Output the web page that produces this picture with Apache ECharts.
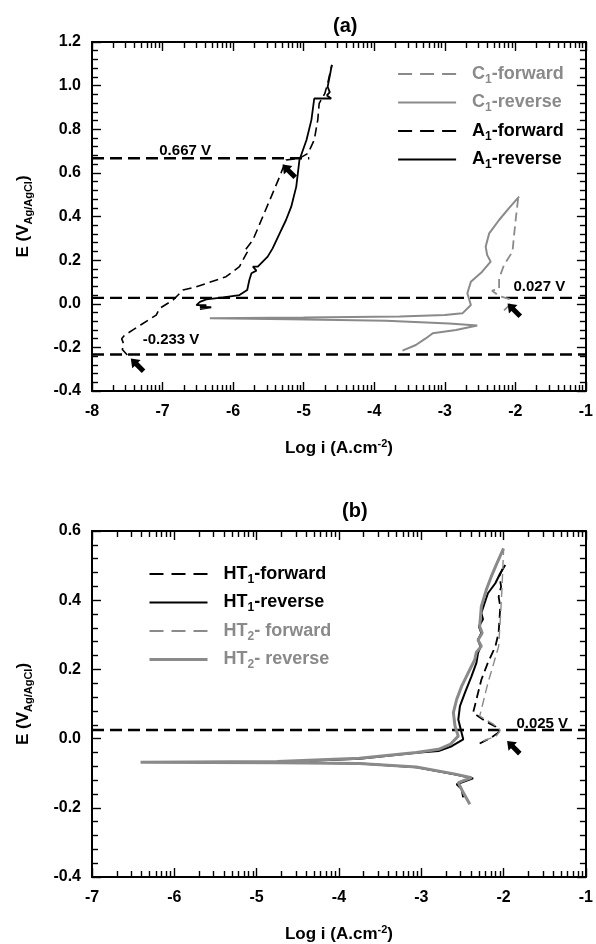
<!DOCTYPE html>
<html>
<head>
<meta charset="utf-8">
<title>Polarization curves</title>
<script src="https://cdn.jsdelivr.net/npm/echarts@6/dist/echarts.min.js"></script>
<style>
html, body { margin: 0; padding: 0; background: #fff; }
#chart { width: 596px; height: 944px; }
</style>
</head>
<body>
<div id="chart"></div>
<script>
// panel (a): log i vs E
var c1Forward = [[-2.16,-0.03],[-2.08,-0.005],[-2.07,0.02],[-2.23,0.036],[-2.33,0.06],[-2.23,0.069],[-2.23,0.116],[-2.16,0.178],[-2.04,0.239],[-2.02,0.308],[-1.99,0.40],[-1.96,0.484]];
var c1Reverse = [[-1.947,0.491],[-2.09,0.438],[-2.23,0.384],[-2.37,0.323],[-2.42,0.262],[-2.40,0.224],[-2.35,0.193],[-2.47,0.147],[-2.63,0.101],[-2.68,0.048],[-2.63,-0.006],[-2.75,-0.044],[-3.0,-0.052],[-3.64,-0.058],[-5.0,-0.063],[-6.33,-0.066],[-5.20,-0.071],[-3.83,-0.078],[-2.94,-0.09],[-2.54,-0.10],[-2.84,-0.12],[-3.17,-0.135],[-3.27,-0.159],[-3.41,-0.189],[-3.60,-0.215]];
var a1Forward = [[-7.50,-0.235],[-7.57,-0.21],[-7.55,-0.185],[-7.58,-0.16],[-7.54,-0.145],[-7.42,-0.12],[-7.30,-0.095],[-7.09,-0.052],[-7.04,-0.021],[-6.85,0.017],[-6.71,0.063],[-6.55,0.075],[-6.38,0.093],[-6.10,0.124],[-5.91,0.170],[-5.81,0.231],[-5.78,0.245],[-5.82,0.25],[-5.72,0.292],[-5.58,0.399],[-5.44,0.506],[-5.34,0.583],[-5.25,0.659],[-5.06,0.667],[-4.94,0.689],[-4.85,0.751],[-4.80,0.843],[-4.78,0.919],[-4.70,0.964],[-4.66,1.010],[-4.60,1.095]];
var a1Reverse = [[-4.60,1.095],[-4.66,0.994],[-4.63,0.97],[-4.67,0.955],[-4.61,0.941],[-4.85,0.941],[-4.89,0.843],[-4.96,0.751],[-5.01,0.705],[-5.06,0.659],[-5.105,0.537],[-5.176,0.445],[-5.25,0.384],[-5.34,0.323],[-5.44,0.254],[-5.51,0.216],[-5.58,0.193],[-5.65,0.170],[-5.72,0.170],[-5.67,0.152],[-5.74,0.140],[-5.77,0.109],[-5.80,0.063],[-5.91,0.040],[-6.14,0.029],[-6.38,0.020],[-6.47,0.009],[-6.52,-0.006],[-6.38,-0.006],[-6.47,-0.015],[-6.31,-0.016],[-6.47,-0.025]];

// panel (b)
var ht1Forward = [[-2.29,-0.014],[-2.15,0.003],[-2.06,0.018],[-2.10,0.035],[-2.22,0.05],[-2.37,0.075],[-2.33,0.113],[-2.27,0.17],[-2.19,0.22],[-2.10,0.266],[-2.06,0.306],[-2.04,0.381],[-2.06,0.41],[-2.03,0.439],[-2.05,0.47],[-2.00,0.496]];
var ht1Reverse = [[-1.98,0.502],[-2.04,0.478],[-2.10,0.449],[-2.19,0.420],[-2.23,0.392],[-2.27,0.363],[-2.25,0.345],[-2.30,0.324],[-2.27,0.305],[-2.31,0.286],[-2.28,0.265],[-2.31,0.248],[-2.33,0.219],[-2.39,0.180],[-2.47,0.132],[-2.53,0.094],[-2.55,0.055],[-2.51,0.017],[-2.49,-0.002],[-2.63,-0.022],[-2.79,-0.036],[-3.06,-0.041],[-3.75,-0.058],[-4.80,-0.068],[-3.75,-0.072],[-3.06,-0.083],[-2.60,-0.103],[-2.37,-0.115],[-2.57,-0.132],[-2.51,-0.146],[-2.49,-0.170]];
var ht2Forward = [[-2.25,-0.007],[-2.09,0.007],[-2.04,0.024],[-2.12,0.041],[-2.29,0.065],[-2.25,0.103],[-2.19,0.161],[-2.13,0.209],[-2.06,0.267],[-2.04,0.343],[-2.02,0.430],[-2.00,0.545]];
var ht2Reverse = [[-2.00,0.550],[-2.08,0.507],[-2.15,0.468],[-2.21,0.430],[-2.27,0.382],[-2.29,0.324],[-2.26,0.305],[-2.31,0.285],[-2.27,0.267],[-2.33,0.25],[-2.35,0.228],[-2.43,0.190],[-2.51,0.151],[-2.57,0.113],[-2.61,0.075],[-2.59,0.036],[-2.55,0.007],[-2.65,-0.017],[-2.79,-0.031],[-3.06,-0.040],[-3.75,-0.057],[-4.75,-0.066],[-6.41,-0.068],[-4.75,-0.070],[-3.75,-0.072],[-3.06,-0.082],[-2.60,-0.102],[-2.39,-0.113],[-2.55,-0.127],[-2.49,-0.156],[-2.41,-0.190]];

// horizontal marker levels and where they stop
var refLevelsA = [0.667, 0.027, -0.233];
var refEndsA = [-4.92, -1, -1];
var refLabelsA = ['0.667 V', '0.027 V', '-0.233 V'];
var refLevelsB = [0.025];
var refEndsB = [-1];
var refLabelsB = ['0.025 V'];

(function(){
    var myChart = echarts.init(document.getElementById('chart'));
    var FONT = '"Liberation Sans", Arial, sans-serif';
    var GRAY = '#8a8a8a';
    var BLACK = '#000';
    var ARROW = 'path://M6,0 L12,8 L8.5,8 L8.5,18 L3.5,18 L3.5,8 L0,8 Z';

    function logMinor(from, to) {
        var out = [];
        for (var d = from; d < to; d++) {
            for (var k = 2; k <= 9; k++) out.push(d + Math.log10(k));
        }
        return out;
    }

    function subName(name) {
        var m = name.match(/^([A-Z]+)(\d)(.*)$/);
        return '{m|' + m[1] + '}{s|' + m[2] + '}{m|' + m[3] + '}';
    }

    var richBig = {
        m: { fontFamily: FONT, fontWeight: 'bold', fontSize: 18 },
        s: { fontFamily: FONT, fontWeight: 'bold', fontSize: 12, padding: [11, 0, 0, 0] }
    };

    function xAxes(grid, min, max) {
        var lineStyle = { color: BLACK, width: 2 };
        var tickStyle = { color: BLACK, width: 1.4 };
        var minor = logMinor(min, max);
        var base = { gridIndex: grid, type: 'value', min: min, max: max, interval: 1, splitLine: { show: false } };
        return [
            Object.assign({}, base, {
                position: 'bottom',
                axisLine: { show: true, onZero: false, lineStyle: lineStyle },
                axisTick: { inside: true, length: 9, lineStyle: tickStyle },
                axisLabel: { margin: 13, color: BLACK, fontFamily: FONT, fontWeight: 'bold', fontSize: 16 },
                name: '{m|Log i (A.cm}{p|-2}{m|)}',
                nameLocation: 'middle',
                nameGap: 47,
                nameTextStyle: {
                    color: BLACK,
                    rich: {
                        m: { fontFamily: FONT, fontWeight: 'bold', fontSize: 17 },
                        p: { fontFamily: FONT, fontWeight: 'bold', fontSize: 11, padding: [0, 0, 10, 0] }
                    }
                }
            }),
            Object.assign({}, base, {
                position: 'bottom',
                axisLine: { show: false, onZero: false },
                axisTick: { inside: true, length: 6, customValues: minor, lineStyle: tickStyle },
                axisLabel: { show: false }
            }),
            Object.assign({}, base, {
                position: 'top',
                axisLine: { show: true, onZero: false, lineStyle: lineStyle },
                axisTick: { inside: true, length: 9, lineStyle: tickStyle },
                axisLabel: { show: false }
            }),
            Object.assign({}, base, {
                position: 'top',
                axisLine: { show: false, onZero: false },
                axisTick: { inside: true, length: 6, customValues: minor, lineStyle: tickStyle },
                axisLabel: { show: false }
            })
        ];
    }

    function yAxes(grid, min, max) {
        var lineStyle = { color: BLACK, width: 2 };
        var tickStyle = { color: BLACK, width: 1.4 };
        var base = {
            gridIndex: grid, type: 'value', min: min, max: max, interval: 0.2,
            splitLine: { show: false },
            minorTick: { show: true, splitNumber: 5, length: 6, lineStyle: tickStyle },
            axisTick: { inside: true, length: 9, lineStyle: tickStyle },
            axisLine: { show: true, onZero: false, lineStyle: lineStyle }
        };
        return [
            Object.assign({}, base, {
                position: 'left',
                axisLabel: {
                    margin: 11, color: BLACK, fontFamily: FONT, fontWeight: 'bold', fontSize: 16,
                    formatter: function(v) { return v.toFixed(1); }
                },
                name: '{m|E (V}{s|Ag/AgCl}{m|)}',
                nameLocation: 'middle',
                nameRotate: 90,
                nameGap: 58,
                nameTextStyle: {
                    color: BLACK,
                    rich: {
                        m: { fontFamily: FONT, fontWeight: 'bold', fontSize: 17 },
                        s: { fontFamily: FONT, fontWeight: 'bold', fontSize: 11, padding: [10, 0, 0, 0] }
                    }
                }
            }),
            Object.assign({}, base, {
                position: 'right',
                axisLabel: { show: false }
            })
        ];
    }

    function curve(name, data, grid, color, width, dashed) {
        return {
            name: name, type: 'line', xAxisIndex: grid * 4, yAxisIndex: grid * 2,
            data: data, symbol: 'none', showSymbol: false, silent: true,
            lineStyle: { color: color, width: width, type: dashed ? [9, 5] : 'solid' },
            itemStyle: { color: color }
        };
    }

    function refLine(grid, level, end, xmin) {
        return {
            type: 'line', xAxisIndex: grid * 4, yAxisIndex: grid * 2, silent: true,
            data: [[xmin, level], [end, level]], symbol: 'none', z: 1,
            lineStyle: { color: BLACK, width: 2.4, type: [12, 6] }
        };
    }

    function notes(grid, labels, labelPos, arrows) {
        var pts = [];
        labels.forEach(function(t, i) {
            pts.push({
                coord: labelPos[i], symbolSize: 0,
                label: { show: true, position: 'inside', formatter: t, color: BLACK,
                         fontFamily: FONT, fontWeight: 'bold', fontSize: 15 }
            });
        });
        arrows.forEach(function(c) {
            pts.push({ coord: c, symbol: ARROW, symbolSize: [12, 18], symbolRotate: 45,
                       itemStyle: { color: BLACK }, label: { show: false } });
        });
        return {
            type: 'line', xAxisIndex: grid * 4, yAxisIndex: grid * 2, data: [], silent: true,
            markPoint: { silent: true, animation: false, data: pts }
        };
    }

    var series = [
        curve('C1-forward', c1Forward, 0, GRAY, 1.8, true),
        curve('C1-reverse', c1Reverse, 0, GRAY, 2, false),
        curve('A1-forward', a1Forward, 0, BLACK, 1.6, true),
        curve('A1-reverse', a1Reverse, 0, BLACK, 1.8, false),
        curve('HT1-forward', ht1Forward, 1, BLACK, 1.8, true),
        curve('HT1-reverse', ht1Reverse, 1, BLACK, 2, false),
        curve('HT2- forward', ht2Forward, 1, GRAY, 1.4, true),
        curve('HT2- reverse', ht2Reverse, 1, GRAY, 3, false)
    ];
    refLevelsA.forEach(function(v, i) { series.push(refLine(0, v, refEndsA[i], -8)); });
    refLevelsB.forEach(function(v, i) { series.push(refLine(1, v, refEndsB[i], -7)); });
    series.push(notes(0, refLabelsA, [[-6.68, 0.70], [-1.66, 0.077], [-6.88, -0.166]],
                      [[-5.21, 0.609], [-2.02, -0.028], [-7.36, -0.28]]));
    series.push(notes(1, refLabelsB, [[-1.53, 0.044]], [[-1.88, -0.025]]));

    function legendItems(names, colors, widths) {
        return names.map(function(n, i) {
            var dashed = n.indexOf('forward') > -1;
            return {
                name: n,
                textStyle: { color: colors[i] },
                lineStyle: { color: colors[i], width: widths[i], type: dashed ? [14, 8] : 'solid' }
            };
        });
    }

    var legendBase = {
        orient: 'vertical', itemWidth: 58, itemHeight: 12, itemGap: 8, padding: 0,
        formatter: subName,
        itemStyle: { opacity: 0 },
        textStyle: { fontFamily: FONT, fontWeight: 'bold', fontSize: 18, padding: [0, 0, 0, 11], rich: richBig },
        selectedMode: false
    };

    var option = {
        animation: false,
        backgroundColor: '#fff',
        title: [
            { text: '(a)', left: 333, top: 16, padding: 0,
              textStyle: { fontFamily: FONT, fontWeight: 'bold', fontSize: 20, color: BLACK } },
            { text: '(b)', left: 342, top: 501, padding: 0,
              textStyle: { fontFamily: FONT, fontWeight: 'bold', fontSize: 20, color: BLACK } }
        ],
        legend: [
            Object.assign({}, legendBase, {
                left: 397, top: 65,
                data: legendItems(['C1-forward', 'C1-reverse', 'A1-forward', 'A1-reverse'],
                                  [GRAY, GRAY, BLACK, BLACK], [2, 2.2, 2, 2.2])
            }),
            Object.assign({}, legendBase, {
                left: 148, top: 565,
                data: legendItems(['HT1-forward', 'HT1-reverse', 'HT2- forward', 'HT2- reverse'],
                                  [BLACK, BLACK, GRAY, GRAY], [2, 2.2, 2, 3])
            })
        ],
        grid: [
            { left: 92, top: 42, width: 495, height: 349 },
            { left: 92, top: 531, width: 496, height: 347 }
        ],
        xAxis: xAxes(0, -8, -1).concat(xAxes(1, -7, -1)),
        yAxis: yAxes(0, -0.4, 1.2).concat(yAxes(1, -0.4, 0.6)),
        series: series
    };
    myChart.setOption(option);
    window.addEventListener('resize', function() {
        myChart.resize();
    });
})();
</script>
</body>
</html>
